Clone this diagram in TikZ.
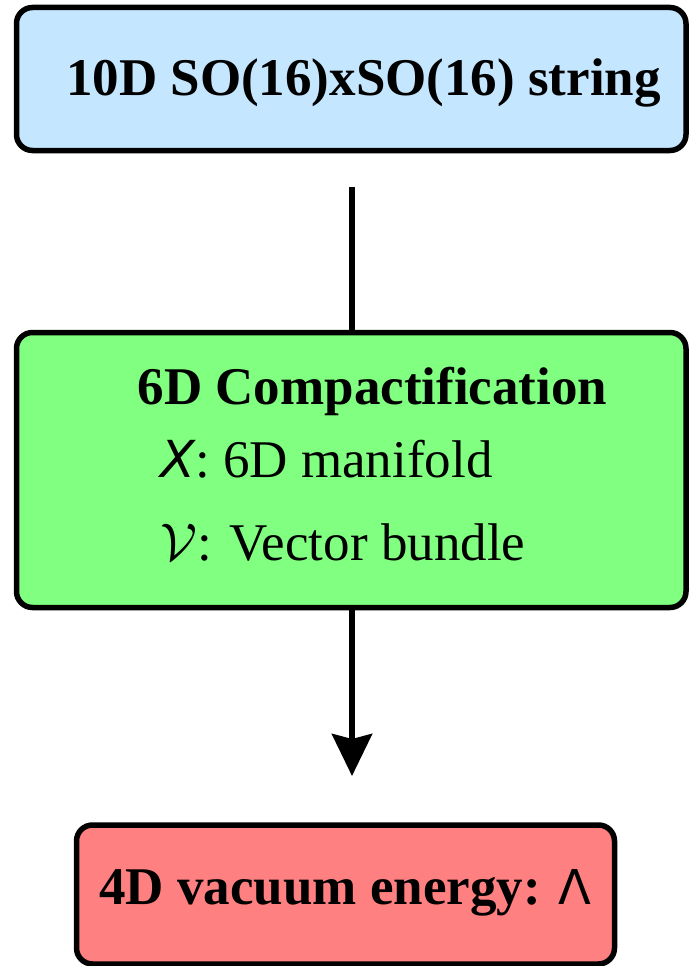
\RequirePackage{fix-cm}
\documentclass[tikz,border=0pt]{standalone}
\usepackage{fontspec}
\setmainfont{Liberation Serif}
\newfontfamily\dvs{DejaVu Sans}
\usetikzlibrary{arrows.meta}
\definecolor{stringblue}{RGB}{196,230,255}
\definecolor{compgreen}{RGB}{128,255,128}
\definecolor{vacred}{RGB}{255,128,128}
\tikzset{
  stagebox/.style={draw=black, line width=5.5pt, rounded corners=16pt,
    inner sep=0pt, outer sep=0pt},
  bigtext/.style={inner sep=0pt, font=\fontsize{53}{60}\selectfont},
  flow/.style={line width=6pt, -{Stealth[length=42pt, width=40pt, inset=5pt]}}
}
\begin{document}
\begin{tikzpicture}[x=1pt, y=-1pt]
  \useasboundingbox (0,0) rectangle (689,966);
  % the flow arrow runs behind the middle box
  \coordinate (flowstart) at (352,187);
  \coordinate (flowend) at (352,776);
  \draw[flow] (flowstart) -- (flowend);

  % 10D theory
  \node[stagebox, fill=stringblue, minimum width=669.5pt, minimum height=143pt]
    (ten) at (351.25,79) {};
  \node[bigtext, anchor=base] (tentext) at (363.5,95)
    {\bfseries 10D SO(16)xSO(16) string};

  % compactification data
  \node[stagebox, fill=compgreen, minimum width=669.5pt, minimum height=275pt]
    (six) at (351.25,470) {};
  \node[bigtext, anchor=base] (sixtitle) at (372.5,404)
    {\bfseries 6D Compactification};
  \node[bigtext, anchor=base west] (sixX) at (160,477)
    {{\dvs\itshape\fontsize{51}{57}\selectfont X}: 6D manifold};
  \node[bigtext, anchor=base west] (sixV) at (160,560)
    {$\mathcal{V}$: Vector bundle};

  % 4D result
  \node[stagebox, fill=vacred, minimum width=538pt, minimum height=139pt]
    (four) at (345.5,894.5) {};
  \node[bigtext, anchor=base] (fourtext) at (345.5,904)
    {\bfseries 4D vacuum energy: {\dvs\mdseries\fontsize{48}{54}\selectfont Λ}};
\end{tikzpicture}
\end{document}
